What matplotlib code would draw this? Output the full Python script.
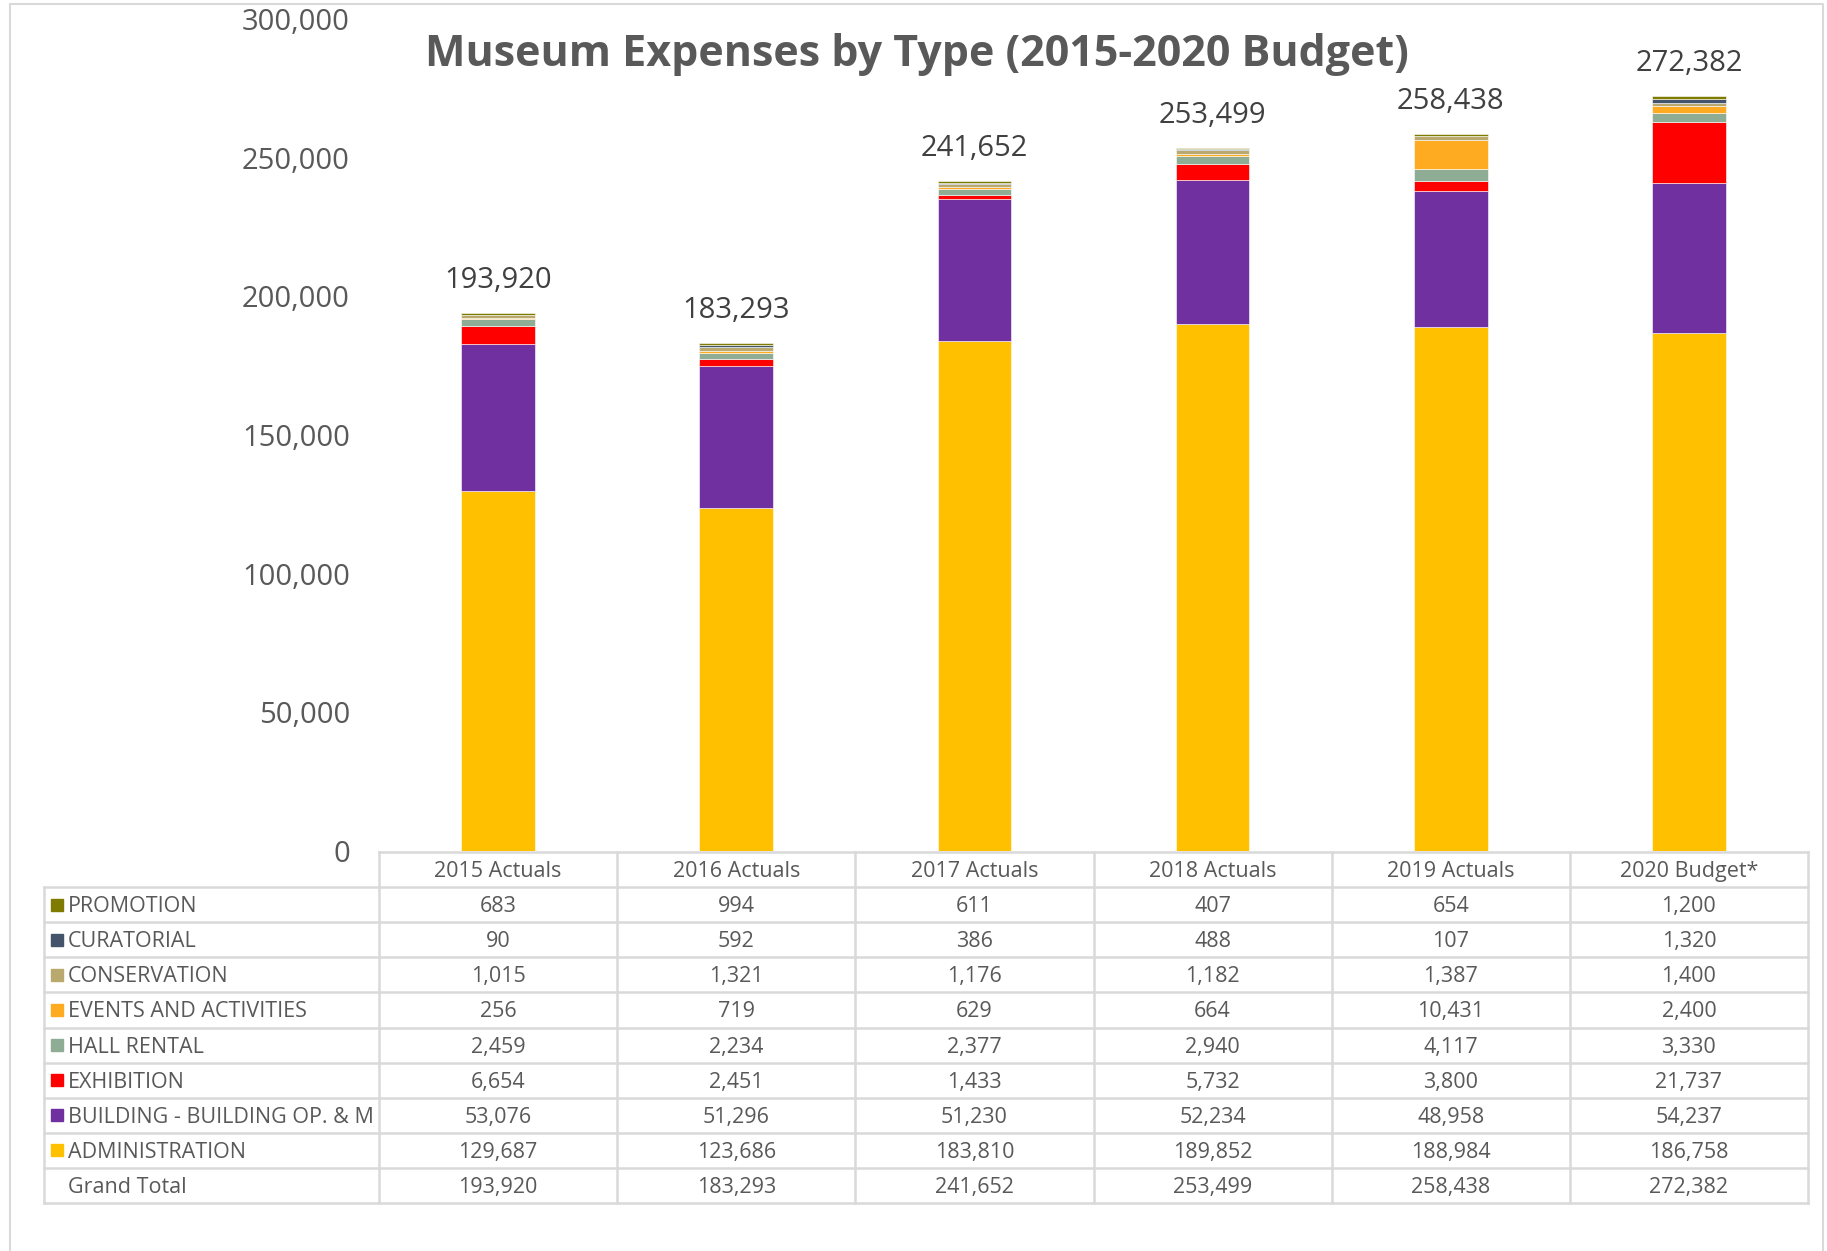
import numpy as np
import matplotlib.pyplot as plt

plt.rcParams['font.family'] = ['Open Sans', 'DejaVu Sans']

years = ["2015 Actuals", "2016 Actuals", "2017 Actuals", "2018 Actuals", "2019 Actuals", "2020 Budget*"]

# expense types, bottom of the stack first
types = ["ADMINISTRATION", "BUILDING - BUILDING OP. & M", "EXHIBITION", "HALL RENTAL",
         "EVENTS AND ACTIVITIES", "CONSERVATION", "CURATORIAL", "PROMOTION"]
administration = [129687, 123686, 183810, 189852, 188984, 186758]
building = [53076, 51296, 51230, 52234, 48958, 54237]
exhibition = [6654, 2451, 1433, 5732, 3800, 21737]
hall_rental = [2459, 2234, 2377, 2940, 4117, 3330]
events = [256, 719, 629, 664, 10431, 2400]
conservation = [1015, 1321, 1176, 1182, 1387, 1400]
curatorial = [90, 592, 386, 488, 107, 1320]
promotion = [683, 994, 611, 407, 654, 1200]
grand_total = [193920, 183293, 241652, 253499, 258438, 272382]

colors = ["#FFC000", "#7030A0", "#FF0000", "#8FAC95", "#FFAB21", "#B9A96E", "#44546A", "#7F7A00"]
series = [administration, building, exhibition, hall_rental, events, conservation, curatorial, promotion]

W, H = 1827, 1251
fig = plt.figure(figsize=(W / 100, H / 100), dpi=100)

# plot area in pixels
x0, x1, ytop, ybot = 379, 1808, 19, 851
ax = fig.add_axes([x0 / W, 1 - ybot / H, (x1 - x0) / W, (ybot - ytop) / H])

x = np.arange(len(years))
bottom = np.zeros(len(years))
for vals, c in zip(series, colors):
    ax.bar(x, vals, 0.31, bottom=bottom, color=c, edgecolor="white", linewidth=0.4)
    bottom += np.array(vals)

for xi, t in zip(x, grand_total):
    ax.annotate(f"{t:,}", (xi, t), xytext=(0, 13), textcoords="offset points",
                ha="center", va="bottom", fontsize=21, color="#404040")

ax.set_xlim(-0.5, len(years) - 0.5)
ax.set_ylim(0, 300000)
ax.set_yticks(range(0, 300001, 50000))
ax.set_yticklabels([f"{v:,}" for v in range(0, 300001, 50000)])
ax.tick_params(axis="y", length=0, pad=21, labelsize=21, labelcolor="#595959")
ax.set_xticks([])
for s in ax.spines.values():
    s.set_visible(False)

fig.text(917 / W, 1 - 55 / H, "Museum Expenses by Type (2015-2020 Budget)", ha="center", va="center",
         fontsize=31, fontweight="bold", color="#595959")

# data table drawn in pixel coordinates
tb = fig.add_axes([0, 0, 1, 1])
tb.set_xlim(0, W)
tb.set_ylim(H, 0)
tb.axis("off")
grid = "#D9D9D9"
txt = "#595959"
fs = 15.5

lx0 = 44
ncol = len(years)
cw = (x1 - x0) / ncol
rh = 35.1
hy = 852
rows_top = hy + rh
nrows = len(types) + 1
tb_bottom = rows_top + nrows * rh
dy = 2  # text sits a little low in each cell

# outer chart border
tb.plot([10, 10, 1823, 1823], [H + 5, 4, 4, H + 5], color=grid, lw=1.5)

# header row lines
tb.plot([x0, x1], [hy, hy], color=grid, lw=1.8)
for i in range(ncol + 1):
    tb.plot([x0 + i * cw] * 2, [hy, tb_bottom], color=grid, lw=1.8)
for k in range(nrows + 1):
    tb.plot([lx0, x1], [rows_top + k * rh] * 2, color=grid, lw=1.8)
tb.plot([lx0, lx0], [rows_top, tb_bottom], color=grid, lw=1.8)

for i, yr in enumerate(years):
    tb.text(x0 + (i + 0.5) * cw, hy + rh / 2 + dy, yr, ha="center", va="center", fontsize=fs, color=txt)

# top row of the table is the top of the stack
row_series = list(reversed(list(zip(types, series, colors))))
for k, (name, vals, c) in enumerate(row_series):
    yc = rows_top + (k + 0.5) * rh
    tb.add_patch(plt.Rectangle((51, yc - 6), 12, 12, color=c))
    tb.text(68, yc + dy, name, ha="left", va="center", fontsize=fs, color=txt)
    for i, v in enumerate(vals):
        tb.text(x0 + (i + 0.5) * cw, yc + dy, f"{v:,}", ha="center", va="center", fontsize=fs, color=txt)

yc = rows_top + (nrows - 0.5) * rh
tb.text(68, yc + dy, "Grand Total", ha="left", va="center", fontsize=fs, color=txt)
for i, v in enumerate(grand_total):
    tb.text(x0 + (i + 0.5) * cw, yc + dy, f"{v:,}", ha="center", va="center", fontsize=fs, color=txt)

fig.savefig("out.png", dpi=100)
